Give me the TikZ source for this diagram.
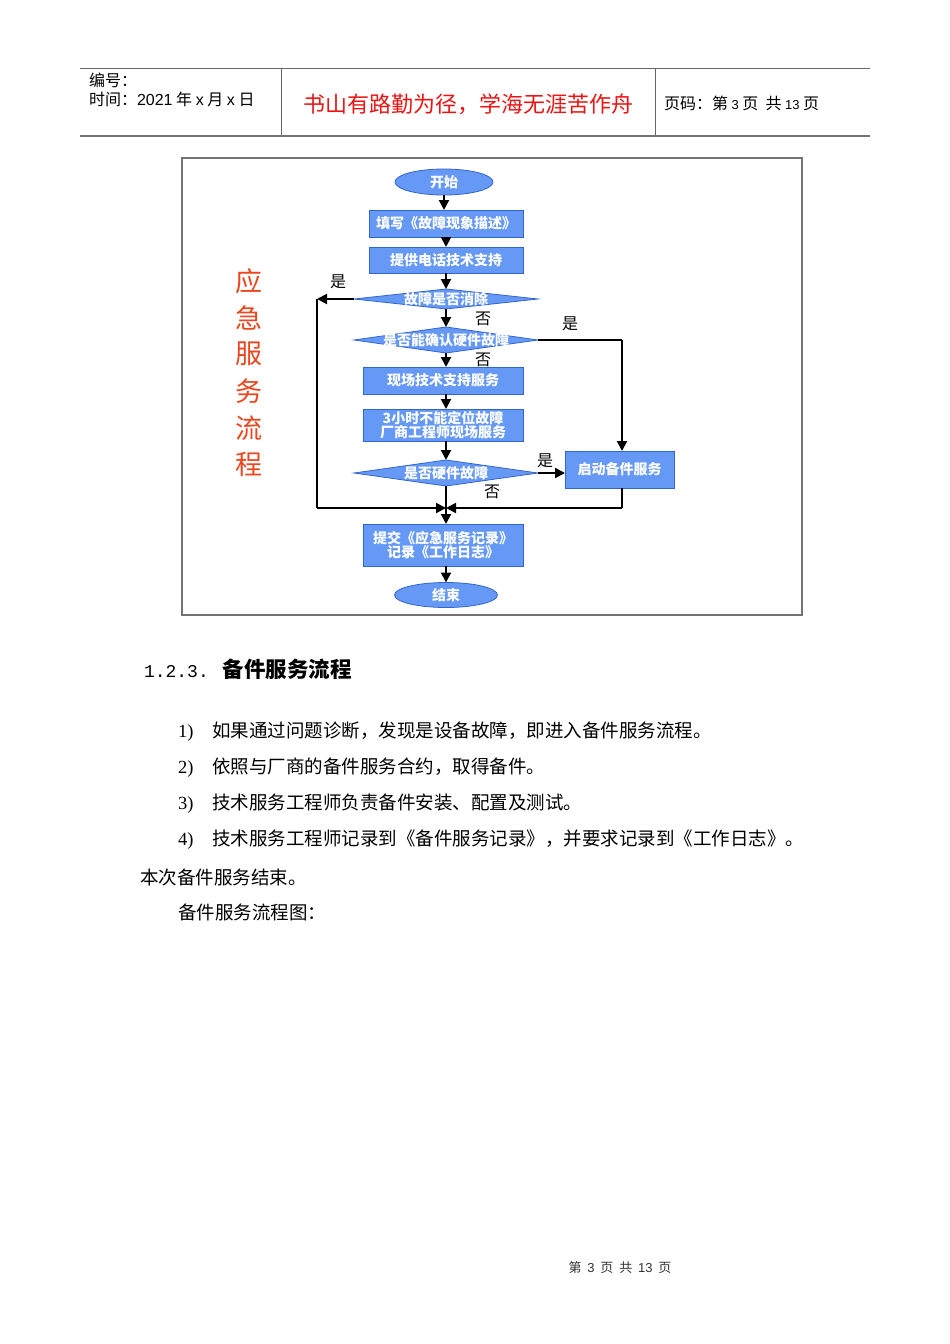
\documentclass[tikz,border=0pt]{standalone}
\usepackage{fontspec}
\setmainfont{Liberation Serif}
\newfontfamily\cjk{Noto Sans CJK SC}
\newfontfamily\hdr{Liberation Sans}
\newfontfamily\monofam{Liberation Mono}
\usetikzlibrary{shapes.geometric,arrows.meta}
\definecolor{boxfill}{RGB}{102,153,245}
\definecolor{boxline}{RGB}{51,102,204}
\definecolor{titlered}{RGB}{235,20,20}
\definecolor{sidered}{RGB}{235,70,30}
\tikzset{
  every node/.style={inner sep=0pt, outer sep=0pt},
  procbox/.style={draw=boxline, line width=0.8pt, fill=boxfill, text=white,
    font=\cjk\bfseries\fontsize{14}{16}\selectfont, align=center},
  termell/.style={ellipse, draw=boxline, line width=0.8pt, fill=boxfill, text=white,
    font=\cjk\bfseries\fontsize{14}{16}\selectfont},
  decis/.style={diamond, draw=boxline, line width=0.8pt, fill=boxfill,
    minimum width=184pt, minimum height=24pt, inner sep=0pt},
  dtext/.style={text=white, font=\cjk\bfseries\fontsize{14}{16}\selectfont},
  conn/.style={line width=2pt, -{Triangle[length=10pt,width=10pt]}},
  plain/.style={line width=2pt},
  yn/.style={font=\cjk\fontsize{16}{18}\selectfont},
  body/.style={font=\cjk\fontsize{18.5}{20}\selectfont, anchor=west},
}
\begin{document}
\begin{tikzpicture}[x=1pt,y=-1pt]
\useasboundingbox[fill=white] (0,0) rectangle (950,1344);
% header
\draw[draw=black!60, line width=1pt] (80,68.5) -- (870,68.5);
\draw[draw=black!55, line width=2pt] (80,136) -- (870,136);
\draw[draw=black!60, line width=1pt] (281,68) -- (281,135);
\draw[draw=black!60, line width=1pt] (655,68) -- (655,135);
\node[anchor=west, font=\cjk\fontsize{16}{18}\selectfont] (h1) at (89,80) {编号：};
\node[anchor=west, font=\cjk\fontsize{16}{18}\selectfont] (h2) at (89,99) {时间：{\hdr 2021} 年 {\hdr x} 月 {\hdr x} 日};
\node[font=\cjk\fontsize{22}{24}\selectfont, text=titlered] (h3) at (468,104) {书山有路勤为径，学海无涯苦作舟};
\node[anchor=west, font=\cjk\fontsize{16}{18}\selectfont] (h4) at (664,103) {页码：第 {\hdr\fontsize{13}{14}\selectfont 3} 页\ \ 共 {\hdr\fontsize{13}{14}\selectfont 13} 页};
% frame
\draw[draw=black!55, line width=1.2pt] (182,158) rectangle (802,615);
% side title
\foreach \c/\yy in {应/281,急/318,服/354,务/391,流/428,程/464}
  \node[font=\cjk\fontsize{27}{28}\selectfont, text=sidered] at (249,\yy) {\c};
% nodes
\node[termell, minimum width=98pt, minimum height=26pt] (start) at (444,182) {开始};
\node[procbox, minimum width=154pt, minimum height=27pt] (fill) at (446,223.5) {填写《故障现象描述》};
\node[procbox, minimum width=154pt, minimum height=26pt] (phone) at (446,260) {提供电话技术支持};
\node[decis, minimum height=20pt, label={[dtext]center:故障是否消除}] (d1) at (446,299) {};
\node[decis, minimum height=26pt, label={[dtext]center:是否能确认硬件故障}] (d2) at (446,340) {};
\node[procbox, minimum width=160pt, minimum height=27pt] (site) at (443,380.5) {现场技术支持服务};
\node[procbox, minimum width=160pt, minimum height=32pt] (vendor) at (443,425) {3小时不能定位故障\\[-2pt]厂商工程师现场服务};
\node[decis, minimum height=26pt, label={[dtext]center:是否硬件故障}] (d3) at (446,473) {};
\node[procbox, minimum width=109pt, minimum height=37pt] (spare) at (619.5,469.5) {启动备件服务};
\node[procbox, minimum width=160pt, minimum height=42pt] (submit) at (443,545) {提交《应急服务记录》\\[-2pt]记录《工作日志》};
\node[termell, minimum width=103pt, minimum height=25pt] (end) at (446,595) {结束};
\coordinate (lc) at (317,299);
\coordinate (lb) at (317,508);
\coordinate (mj) at (446,508);
\coordinate (rt) at (622,340);
\coordinate (rb) at (622,508);
% connectors
\draw[conn] (start) -- (start |- fill.north);
\draw[conn] (446,237) -- (446,247);
\draw[conn] (446,273) -- (446,289);
\draw[conn] (d1.west) -- (lc);
\draw[plain] (lc) -- (lb);
\draw[conn] (lb) -- (mj);
\draw[conn] (d1.south) -- (d2.north);
\draw[plain] (d2.east) -- (rt);
\draw[conn] (rt) -- (rt |- spare.north);
\draw[conn] (d2.south) -- (446,367);
\draw[conn] (446,394) -- (446,409);
\draw[conn] (446,441) -- (d3.north);
\draw[conn] (d3.east) -- (d3.east -| spare.west);
\draw[plain] (d3.south) -- (mj);
\draw[plain] (rt |- spare.south) -- (rb);
\draw[conn] (rb) -- (mj);
\draw[conn] (mj) -- (446,524);
\draw[conn] (446,566) -- (end.north);
% yes/no labels
\node[yn] (y1) at (338,282) {是};
\node[yn] (n1) at (483,319) {否};
\node[yn] (y2) at (570,324) {是};
\node[yn] (n2) at (483,360) {否};
\node[yn] (y3) at (545,461) {是};
\node[yn] (n3) at (492,492) {否};
% body text
\node[anchor=west] (sec) at (144,669) {{\monofam\fontsize{18}{22}\selectfont 1.2.3.}\hspace{14pt}{\cjk\bfseries\fontsize{21.5}{24}\selectfont 备件服务流程}};
\node[body] (b1) at (178,732) {\makebox[34pt][l]{\rmfamily 1)}如果通过问题诊断，发现是设备故障，即进入备件服务流程。};
\node[body] (b2) at (178,768) {\makebox[34pt][l]{\rmfamily 2)}依照与厂商的备件服务合约，取得备件。};
\node[body] (b3) at (178,804) {\makebox[34pt][l]{\rmfamily 3)}技术服务工程师负责备件安装、配置及测试。};
\node[body] (b4) at (178,840) {\makebox[34pt][l]{\rmfamily 4)}技术服务工程师记录到《备件服务记录》，并要求记录到《工作日志》。};
\node[body] (b5) at (140,877) {本次备件服务结束。};
\node[body] (b6) at (178,912) {备件服务流程图：};
% footer
\node[font=\cjk\fontsize{13}{14}\selectfont, text=black!80] (ft) at (620,1268) {第\ \ {\hdr 3}\ \ 页\ \ 共\ \ {\hdr 13}\ \ 页};
\end{tikzpicture}
\end{document}
